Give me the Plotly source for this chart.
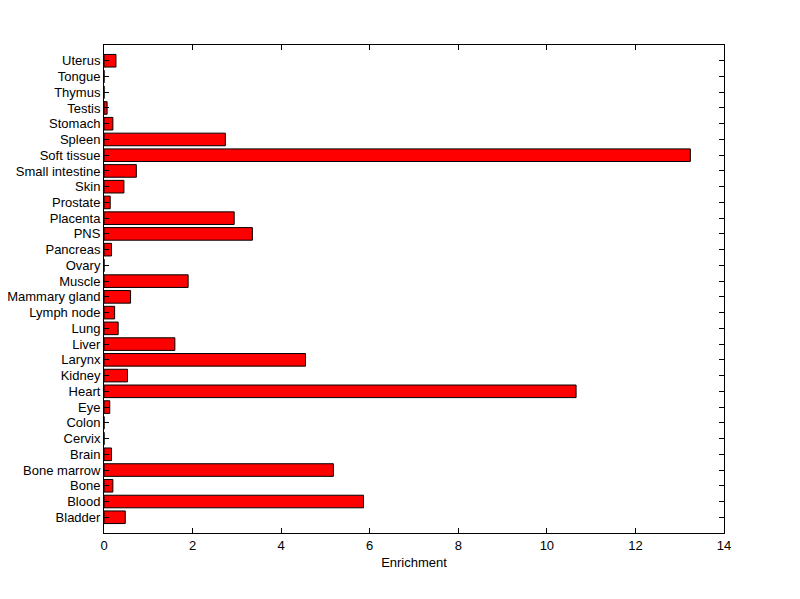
import plotly.graph_objects as go

tissues = ["Bladder", "Blood", "Bone", "Bone marrow", "Brain", "Cervix", "Colon", "Eye",
           "Heart", "Kidney", "Larynx", "Liver", "Lung", "Lymph node", "Mammary gland",
           "Muscle", "Ovary", "Pancreas", "PNS", "Placenta", "Prostate", "Skin",
           "Small intestine", "Soft tissue", "Spleen", "Stomach", "Testis", "Thymus",
           "Tongue", "Uterus"]
enrichment = [0.48, 5.86, 0.20, 5.18, 0.17, 0.0, 0.0, 0.13,
              10.66, 0.53, 4.55, 1.60, 0.32, 0.24, 0.60,
              1.90, 0.0, 0.17, 3.35, 2.94, 0.14, 0.45,
              0.73, 13.24, 2.74, 0.20, 0.07, 0.0,
              0.0, 0.27]
x_ticks = [0, 2, 4, 6, 8, 10, 12, 14]

fig = go.Figure(go.Bar(
    x=enrichment, y=tissues, orientation="h",
    marker=dict(color="#ff0000", line=dict(color="black", width=1)),
    width=0.8,
))

font = dict(family="Liberation Sans, Arial, sans-serif", size=13, color="black")
fig.update_layout(
    width=800, height=599,
    margin=dict(l=96, r=84, t=37, b=74),
    paper_bgcolor="white", plot_bgcolor="white",
    font=font, showlegend=False,
    bargap=0.2,
)
fig.update_xaxes(
    range=[0, 14], tickmode="array", tickvals=x_ticks, ticks="inside", ticklen=5,
    showline=True, linecolor="black", linewidth=1, mirror="ticks",
    showgrid=False, zeroline=False, tickcolor="black", automargin=False,
    title=dict(text="Enrichment", font=font, standoff=6),
)
fig.update_yaxes(
    type="category", categoryorder="array", categoryarray=tissues,
    tickmode="array", tickvals=tissues, ticktext=tissues,
    range=[-1, 30], ticks="inside", ticklen=5,
    showline=True, linecolor="black", linewidth=1, mirror="ticks",
    showgrid=False, zeroline=False, tickcolor="black", automargin=False,
)
fig.write_html("out.html")
